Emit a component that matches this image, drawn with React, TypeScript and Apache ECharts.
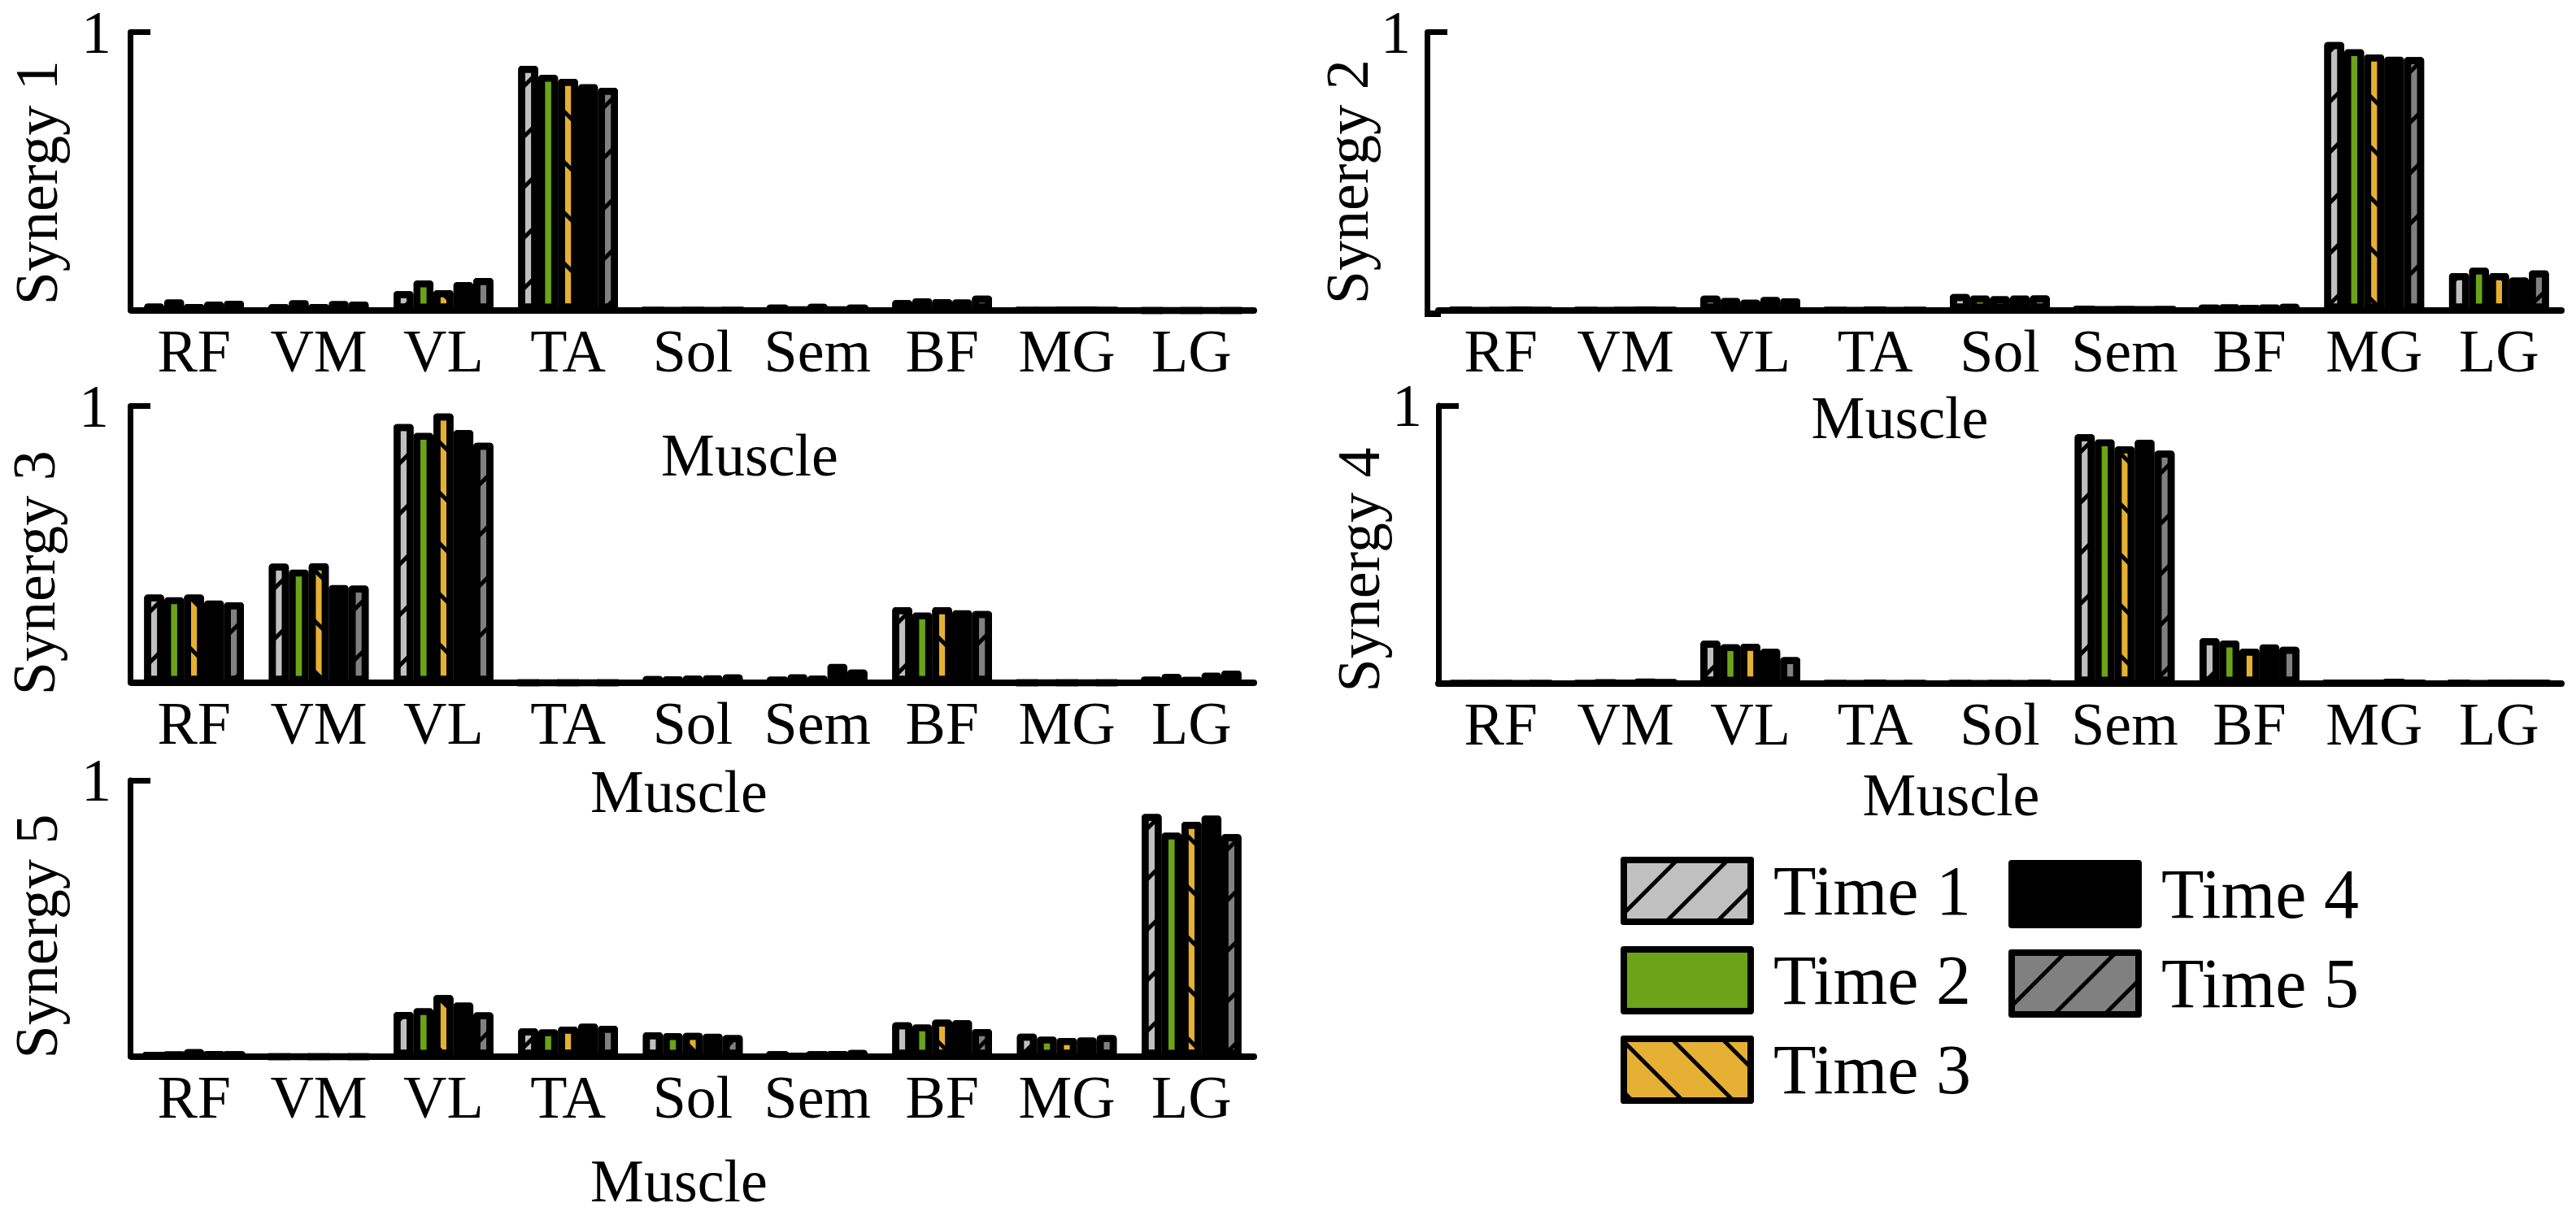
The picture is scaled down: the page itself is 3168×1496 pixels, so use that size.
import React, { useEffect, useRef } from "react";
import * as echarts from "echarts";

// ---------- data ----------
const muscles = ["RF", "VM", "VL", "TA", "Sol", "Sem", "BF", "MG", "LG"];
const timeNames = ["Time 1", "Time 2", "Time 3", "Time 4", "Time 5"];
const synergyNames = ["Synergy 1", "Synergy 2", "Synergy 3", "Synergy 4", "Synergy 5"];
const xAxisTitle = "Muscle";
const yTickValues = [1];
const yTickLabels = ["1"];

// each synergy: rows = Time 1..5, columns = muscles
const synergy1 = [
  [0.025, 0.02, 0.069, 0.879, 0.002, 0.017, 0.037, 0.002, 0.0],
  [0.04, 0.037, 0.108, 0.847, 0.002, 0.006, 0.044, 0.003, 0.0],
  [0.022, 0.022, 0.073, 0.832, 0.002, 0.024, 0.041, 0.003, 0.0],
  [0.032, 0.034, 0.102, 0.813, 0.002, 0.006, 0.04, 0.005, 0.0],
  [0.035, 0.032, 0.117, 0.8, 0.002, 0.017, 0.053, 0.002, 0.0],
];
const synergy2 = [
  [0.003, 0.002, 0.053, 0.001, 0.059, 0.009, 0.017, 0.964, 0.134],
  [0.001, 0.001, 0.045, 0.001, 0.054, 0.008, 0.021, 0.939, 0.154],
  [0.002, 0.001, 0.039, 0.004, 0.051, 0.008, 0.015, 0.92, 0.134],
  [0.004, 0.004, 0.049, 0.001, 0.054, 0.008, 0.019, 0.912, 0.119],
  [0.002, 0.002, 0.044, 0.001, 0.054, 0.007, 0.024, 0.91, 0.144],
];
const synergy3 = [
  [0.319, 0.43, 0.935, 0, 0.024, 0.019, 0.273, 0, 0.019],
  [0.309, 0.409, 0.903, 0, 0.022, 0.031, 0.254, 0, 0.032],
  [0.319, 0.432, 0.973, 0, 0.026, 0.026, 0.273, 0, 0.017],
  [0.297, 0.353, 0.913, 0, 0.027, 0.068, 0.262, 0, 0.037],
  [0.291, 0.351, 0.867, 0, 0.03, 0.048, 0.259, 0, 0.044],
];
const synergy4 = [
  [0.002, 0.002, 0.154, 0.002, 0.001, 0.897, 0.163, 0.005, 0.003],
  [0.003, 0.007, 0.142, 0.001, 0.001, 0.879, 0.155, 0.005, 0.002],
  [0.001, 0.003, 0.143, 0.005, 0.001, 0.853, 0.126, 0.004, 0.003],
  [0.002, 0.012, 0.126, 0.001, 0.002, 0.877, 0.141, 0.01, 0.004],
  [0.001, 0.007, 0.095, 0.001, 0.004, 0.838, 0.132, 0.005, 0.003],
];
const synergy5 = [
  [0.011, 0, 0.162, 0.102, 0.088, 0.014, 0.124, 0.083, 0.878],
  [0.014, 0, 0.176, 0.099, 0.085, 0.005, 0.117, 0.073, 0.811],
  [0.027, 0, 0.223, 0.109, 0.086, 0.014, 0.134, 0.068, 0.85],
  [0.016, 0, 0.196, 0.12, 0.083, 0.016, 0.132, 0.07, 0.873],
  [0.014, 0, 0.16, 0.112, 0.078, 0.024, 0.1, 0.078, 0.805],
];
const synergies = [synergy1, synergy2, synergy3, synergy4, synergy5];

// ---------- styles / layout ----------
const timeColors = ["#c0c0c0", "#6ba419", "#e5b033", "#000000", "#808080"];
const timeHatch = ["/", "", "\\", "", "/"];
const FONT = '"Liberation Serif", "Times New Roman", serif';

const panels = [
  { left: 162, top: 39.5, width: 1380, height: 342.5, yOffset: 2, yNameGap: 78, yNameShift: 14, yLabelShift: 11, yLabelMargin: 23, xNameGap: 137, xNameShift: 70 },
  { left: 1769, top: 39.5, width: 1381, height: 342.5, yOffset: 14, yNameGap: 43, yNameShift: 13, yLabelShift: 9, yLabelMargin: 20, xNameGap: 91, xNameShift: -123 },
  { left: 162, top: 499.5, width: 1380, height: 340.5, yOffset: 2, yNameGap: 81, yNameShift: 35, yLabelShift: 20, yLabelMargin: 26, xNameGap: 93, xNameShift: -17 },
  { left: 1769, top: 499, width: 1381, height: 342, yOffset: 0, yNameGap: 52, yNameShift: 31, yLabelShift: 4, yLabelMargin: 20, xNameGap: 96, xNameShift: -60 },
  { left: 162, top: 960, width: 1380, height: 340, yOffset: 2, yNameGap: 78, yNameShift: 22, yLabelShift: 3, yLabelMargin: 23, xNameGap: 112, xNameShift: -17 },
];

function makeDecal(dir: string) {
  if (!dir) return undefined;
  return {
    symbol: "rect",
    symbolSize: 1,
    symbolKeepAspect: false,
    color: "#000000",
    dashArrayX: [10, 0],
    dashArrayY: [5, 39],
    rotation: dir === "/" ? -Math.PI / 4 : Math.PI / 4,
  };
}

function buildOption() {
  const grid: any[] = [];
  const xAxis: any[] = [];
  const yAxis: any[] = [];
  const series: any[] = [];

  panels.forEach((p, i) => {
    grid.push({ left: p.left, top: p.top, width: p.width, height: p.height, containLabel: false });
    xAxis.push({
      type: "category",
      gridIndex: i,
      data: muscles,
      offset: 4,
      axisLine: { show: true, lineStyle: { color: "#000", width: 8 } },
      axisTick: { show: false },
      axisLabel: { interval: 0, margin: 9, color: "#000", fontFamily: FONT, fontSize: 74 },
      splitLine: { show: false },
      name: xAxisTitle,
      nameLocation: "middle",
      nameGap: p.xNameGap,
      nameTextStyle: {
        color: "#000",
        fontFamily: FONT,
        fontSize: 74,
        padding: p.xNameShift >= 0 ? [0, 0, 0, 2 * p.xNameShift] : [0, -2 * p.xNameShift, 0, 0],
      },
    });
    yAxis.push({
      type: "value",
      gridIndex: i,
      min: 0,
      max: 1,
      interval: 1,
      offset: p.yOffset,
      axisLine: { show: true, lineStyle: { color: "#000", width: 7 } },
      axisTick: { show: true, inside: true, length: 25, customValues: yTickValues, lineStyle: { color: "#000", width: 7 } },
      splitLine: { show: false },
      axisLabel: {
        customValues: yTickValues,
        formatter: (v: number) => {
          const k = yTickValues.indexOf(v);
          return k >= 0 ? yTickLabels[k] : "";
        },
        margin: p.yLabelMargin,
        color: "#000",
        fontFamily: FONT,
        fontSize: 74,
        padding: [2 * p.yLabelShift, 0, 0, 0],
      },
      name: synergyNames[i],
      nameLocation: "middle",
      nameGap: p.yNameGap,
      nameTextStyle: { color: "#000", fontFamily: FONT, fontSize: 74, padding: [0, 2 * p.yNameShift, 0, 0] },
    });

    timeNames.forEach((tn, t) => {
      const decal = makeDecal(timeHatch[t]);
      const itemStyle: any = {
        color: timeColors[t],
        borderColor: "#000",
        borderWidth: 8.5,
        borderJoin: "round",
      };
      if (decal) itemStyle.decal = decal;
      series.push({
        type: "bar",
        name: tn,
        xAxisIndex: i,
        yAxisIndex: i,
        data: synergies[i][t],
        barGap: "0%",
        barCategoryGap: "20%",
        itemStyle,
        silent: true,
        emphasis: { disabled: true },
      });
    });
  });

  const legendCommon = {
    orient: "vertical",
    icon: "rect",
    itemWidth: 156,
    itemHeight: 76,
    itemGap: 24,
    padding: 0,
    selectedMode: false,
    textStyle: { color: "#000", fontFamily: FONT, fontSize: 86, padding: [0, 0, 0, 23] },
    itemStyle: { borderWidth: 8, borderColor: "#000" },
  };

  return {
    animation: false,
    backgroundColor: "#ffffff",
    grid,
    xAxis,
    yAxis,
    series,
    legend: [
      { ...legendCommon, data: timeNames.slice(0, 3), left: 1993, top: 1053 },
      { ...legendCommon, data: timeNames.slice(3), left: 2470, top: 1057 },
    ],
    graphic: [
      // short extension of panel 2's baseline to its offset y axis
      { type: "rect", shape: { x: 1752, y: 382, width: 20, height: 8 }, style: { fill: "#000" }, silent: true },
    ],
  };
}

export default function App() {
  const ref = useRef<HTMLDivElement>(null);
  useEffect(() => {
    if (!ref.current) return;
    const chart = echarts.init(ref.current, undefined, { renderer: "svg", width: 3168, height: 1496 });
    chart.setOption(buildOption() as any);
    return () => chart.dispose();
  }, []);
  return (
    <div
      ref={ref}
      style={{ position: "fixed", left: 0, top: 0, width: 3168, height: 1496, background: "#fff" }}
    />
  );
}
